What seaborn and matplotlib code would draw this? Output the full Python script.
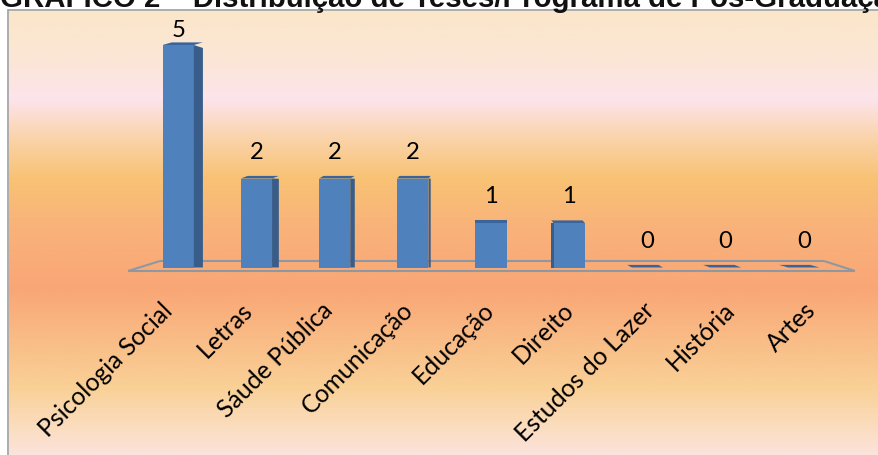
import numpy as np
import pandas as pd
import matplotlib
matplotlib.use("Agg")
import matplotlib.pyplot as plt
import seaborn as sns
from matplotlib.colors import LinearSegmentedColormap
from matplotlib.patches import Polygon, Rectangle
from matplotlib.transforms import ScaledTranslation

# ---- data ----
categories = ["Psicologia Social", "Letras", "Sáude Pública", "Comunicação",
              "Educação", "Direito", "Estudos do Lazer", "História", "Artes"]
values = [5, 2, 2, 2, 1, 1, 0, 0, 0]
title = "GRÁFICO 2 – Distribuição de Teses/Programa de Pós-Graduação"

W, H = 879, 456
sns.set_theme(style="white")
plt.rcParams['font.family'] = ['Lato', 'DejaVu Sans']

fig = plt.figure(figsize=(W / 100, H / 100), dpi=100)
fig.patch.set_facecolor('white')


def fx(px):
    return px / W


def fy(py):
    return 1 - py / H


# ---- background gradient ----
bg = fig.add_axes([fx(9), 0, 1 - fx(9), fy(12)])
stops = [(12, '#FBE7CA'), (60, '#FBE6D6'), (100, '#FDE4EC'), (140, '#FAD3A8'),
         (180, '#F8C274'), (230, '#F9B27A'), (290, '#F9A676'), (340, '#F9BC86'),
         (390, '#F9D197'), (430, '#FBDDC0'), (456, '#FCE3DC')]
pos = [(p - 12) / (456 - 12) for p, _ in stops]
cmap = LinearSegmentedColormap.from_list('bg', list(zip(pos, [c for _, c in stops])))
grad = np.linspace(0, 1, 512).reshape(-1, 1)
bg.imshow(grad, cmap=cmap, aspect='auto', extent=[0, 1, 0, 1], origin='upper')
bg.set_axis_off()

fig.add_artist(Rectangle((fx(8), -0.1), 1.2, fy(11) + 0.1, transform=fig.transFigure,
                         fill=False, edgecolor='#A6A6A6', lw=1.3))

# title (partly cropped by the top edge, as in the source image)
fig.text(fx(0), fy(7), title, fontsize=21.2, fontweight='bold',
         family=['Liberation Sans', 'DejaVu Sans'], va='baseline', ha='left', color='#111111')

# ---- main axes ----
PX_X, PX_Y = 78.2, 44.5
ax = fig.add_axes([fx(139.1), fy(268.5), fx(703.8), 267 / H])
ax.set_facecolor('none')
df = pd.DataFrame({'Programa': categories, 'Teses': values})
sns.barplot(data=df, x='Programa', y='Teses', color='#4F81BD', saturation=1,
            width=0.4, ax=ax, zorder=3, linewidth=0)
ax.set_xlim(-0.5, 8.5)
ax.set_ylim(0, 6)
for sp in ax.spines.values():
    sp.set_visible(False)
ax.set_yticks([])
ax.set_xlabel('')
ax.set_ylabel('')


def dxp(px):
    return (px - 178.2) / PX_X


def dyp(py):
    return (268.5 - py) / PX_Y


# floor
floor_kw = dict(color='#8E98A3', lw=1.5, clip_on=False, solid_capstyle='butt')
ax.plot([dxp(128), dxp(855)], [dyp(272), dyp(272)], zorder=2, **floor_kw)
ax.plot([dxp(160), dxp(824)], [dyp(262), dyp(262)], zorder=2, **floor_kw)
ax.plot([dxp(128), dxp(160)], [dyp(272), dyp(262)], zorder=2, **floor_kw)
ax.plot([dxp(824), dxp(855)], [dyp(262), dyp(272)], zorder=2, **floor_kw)

vanish = 4.0
t = 2.6 / PX_Y
fs_val = 17.2
fs_lab = 17.8
vmax = max(values)
for patch, v in zip(ax.patches, values):
    x0 = patch.get_x()
    w = patch.get_width()
    h = patch.get_height()
    x1 = x0 + w
    xc = x0 + w / 2
    s = (vanish - xc) * 0.029
    # top face
    ax.add_patch(Polygon([(x0, h), (x1, h), (x1 + s, h + t), (x0 + s, h + t)],
                         closed=True, color='#3A659C', zorder=4, clip_on=False, lw=0))
    if h > 0 and abs(s) > 1e-6:
        xe = x1 if s > 0 else x0
        d = max(0.0, 0.33 * abs(s) * PX_X * (h - 1.5) / 3.5) / PX_Y
        ax.add_patch(Polygon([(xe, 0), (xe + s, 0), (xe + s, h - d), (xe, h)],
                             closed=True, color='#385D8A', zorder=4, clip_on=False, lw=0))
    off_px = 15.5 if v == vmax else 27
    ax.annotate(str(v), xy=(xc, h), xytext=(0, off_px * 0.72), textcoords='offset points',
                ha='center', va='center', fontsize=fs_val, color='black', annotation_clip=False)

ax.set_xticks(range(len(categories)))
ax.set_xticklabels(categories, rotation=45, ha='right', va='center',
                   rotation_mode='anchor', fontsize=fs_lab, color='black')
ax.tick_params(axis='x', length=0, pad=27.5)
for i, lab in enumerate(ax.get_xticklabels()):
    cpx = 178.2 + i * PX_X
    dx = (cpx - 491) * 0.028 - 1.0
    lab.set_transform(lab.get_transform() + ScaledTranslation(dx / 100, 0, fig.dpi_scale_trans))

fig.savefig('out.png', dpi=100)
